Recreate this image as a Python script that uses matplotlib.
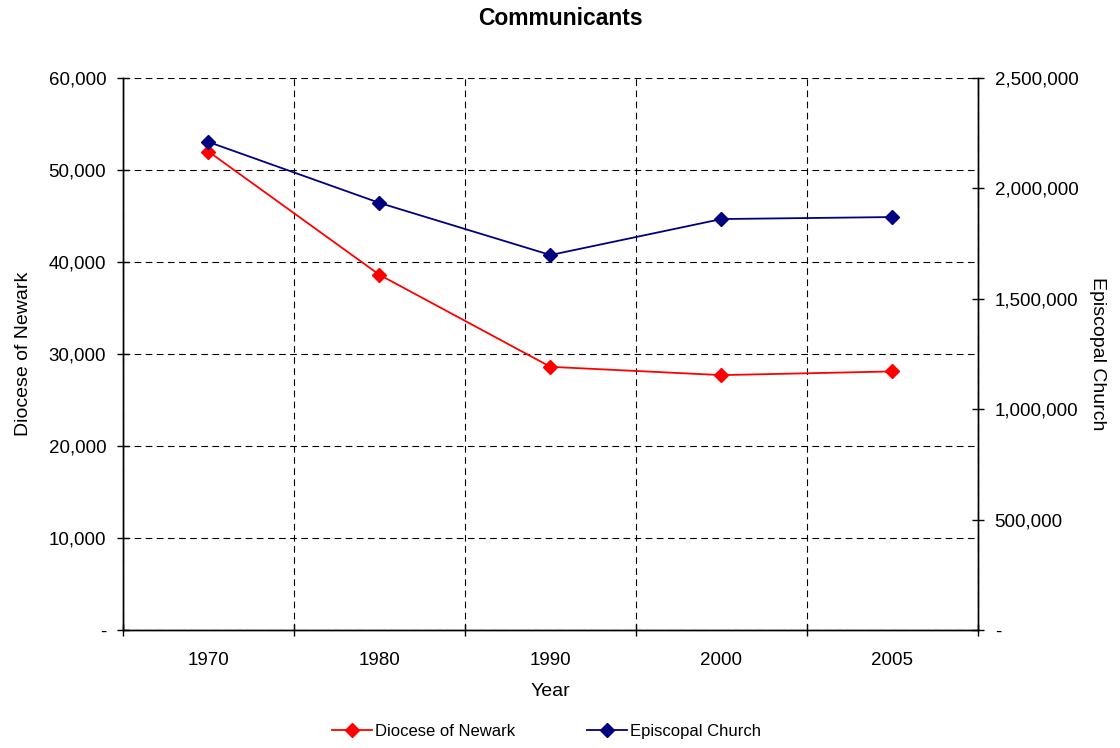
import numpy as np
import matplotlib
matplotlib.use("Agg")
import matplotlib.pyplot as plt
from matplotlib.ticker import FuncFormatter, FixedLocator

plt.rcParams['font.family'] = ['Liberation Sans', 'DejaVu Sans']

years = ["1970", "1980", "1990", "2000", "2005"]
newark = [52000, 38600, 28600, 27700, 28100]
episcopal = [2210000, 1934000, 1698000, 1861000, 1870000]


def fmt(v, pos):
    if v == 0:
        return "-"
    return "{:,.0f}".format(v)


fig = plt.figure(figsize=(11.2, 7.48), dpi=100)
ax = fig.add_axes([0.1098, 0.1578, 0.7634, 0.7380])
ax2 = ax.twinx()

x = np.arange(len(years))
l1, = ax.plot(x, newark, color="#ff0000", marker="D", markersize=7, lw=1.3,
              label="Diocese of Newark", zorder=3)
l2, = ax2.plot(x, episcopal, color="#000080", marker="D", markersize=7, lw=1.3,
               label="Episcopal Church", zorder=3)

ax.set_xlim(-0.5, len(years) - 0.5)
ax.set_ylim(0, 60000)
ax2.set_ylim(0, 2500000)
ax.set_yticks(np.arange(0, 60001, 10000))
ax2.set_yticks(np.arange(0, 2500001, 500000))
ax.yaxis.set_major_formatter(FuncFormatter(fmt))
ax2.yaxis.set_major_formatter(FuncFormatter(fmt))

ax.set_xticks(x)
ax.set_xticklabels(years)
ax.xaxis.set_minor_locator(FixedLocator(np.arange(-0.5, len(years), 1.0)))
ax.tick_params(axis="x", which="major", length=0, pad=16, labelsize=13.5)
ax.tick_params(axis="x", which="minor", length=8, direction="inout", width=1)
ax.tick_params(axis="y", length=8, direction="inout", width=1, labelsize=13.5, pad=8)
ax2.tick_params(axis="y", length=8, direction="inout", width=1, labelsize=13.5, pad=8)

ax.grid(axis="y", which="major", color="black", linestyle=(0, (6, 4)), lw=0.8)
ax.grid(axis="x", which="minor", color="black", linestyle=(0, (6, 4)), lw=0.8)
ax.set_axisbelow(True)

for a in (ax, ax2):
    for s in a.spines.values():
        s.set_linewidth(1)
ax.spines["top"].set_visible(False)
ax2.spines["top"].set_visible(False)

ax.set_xlabel("Year", fontsize=14, labelpad=10)
ax.set_ylabel("Diocese of Newark", fontsize=14, labelpad=12)
ax2.set_ylabel("Episcopal Church", fontsize=14, rotation=270, labelpad=20)

fig.suptitle("Communicants", fontsize=16.5, fontweight="bold", y=0.99)

fig.legend(handles=[l1, l2], loc="lower center", ncol=2, frameon=False,
           fontsize=12, bbox_to_anchor=(0.488, -0.008), columnspacing=4.3,
           handlelength=2.4, handletextpad=0.2)

fig.savefig("out.png", dpi=100)
